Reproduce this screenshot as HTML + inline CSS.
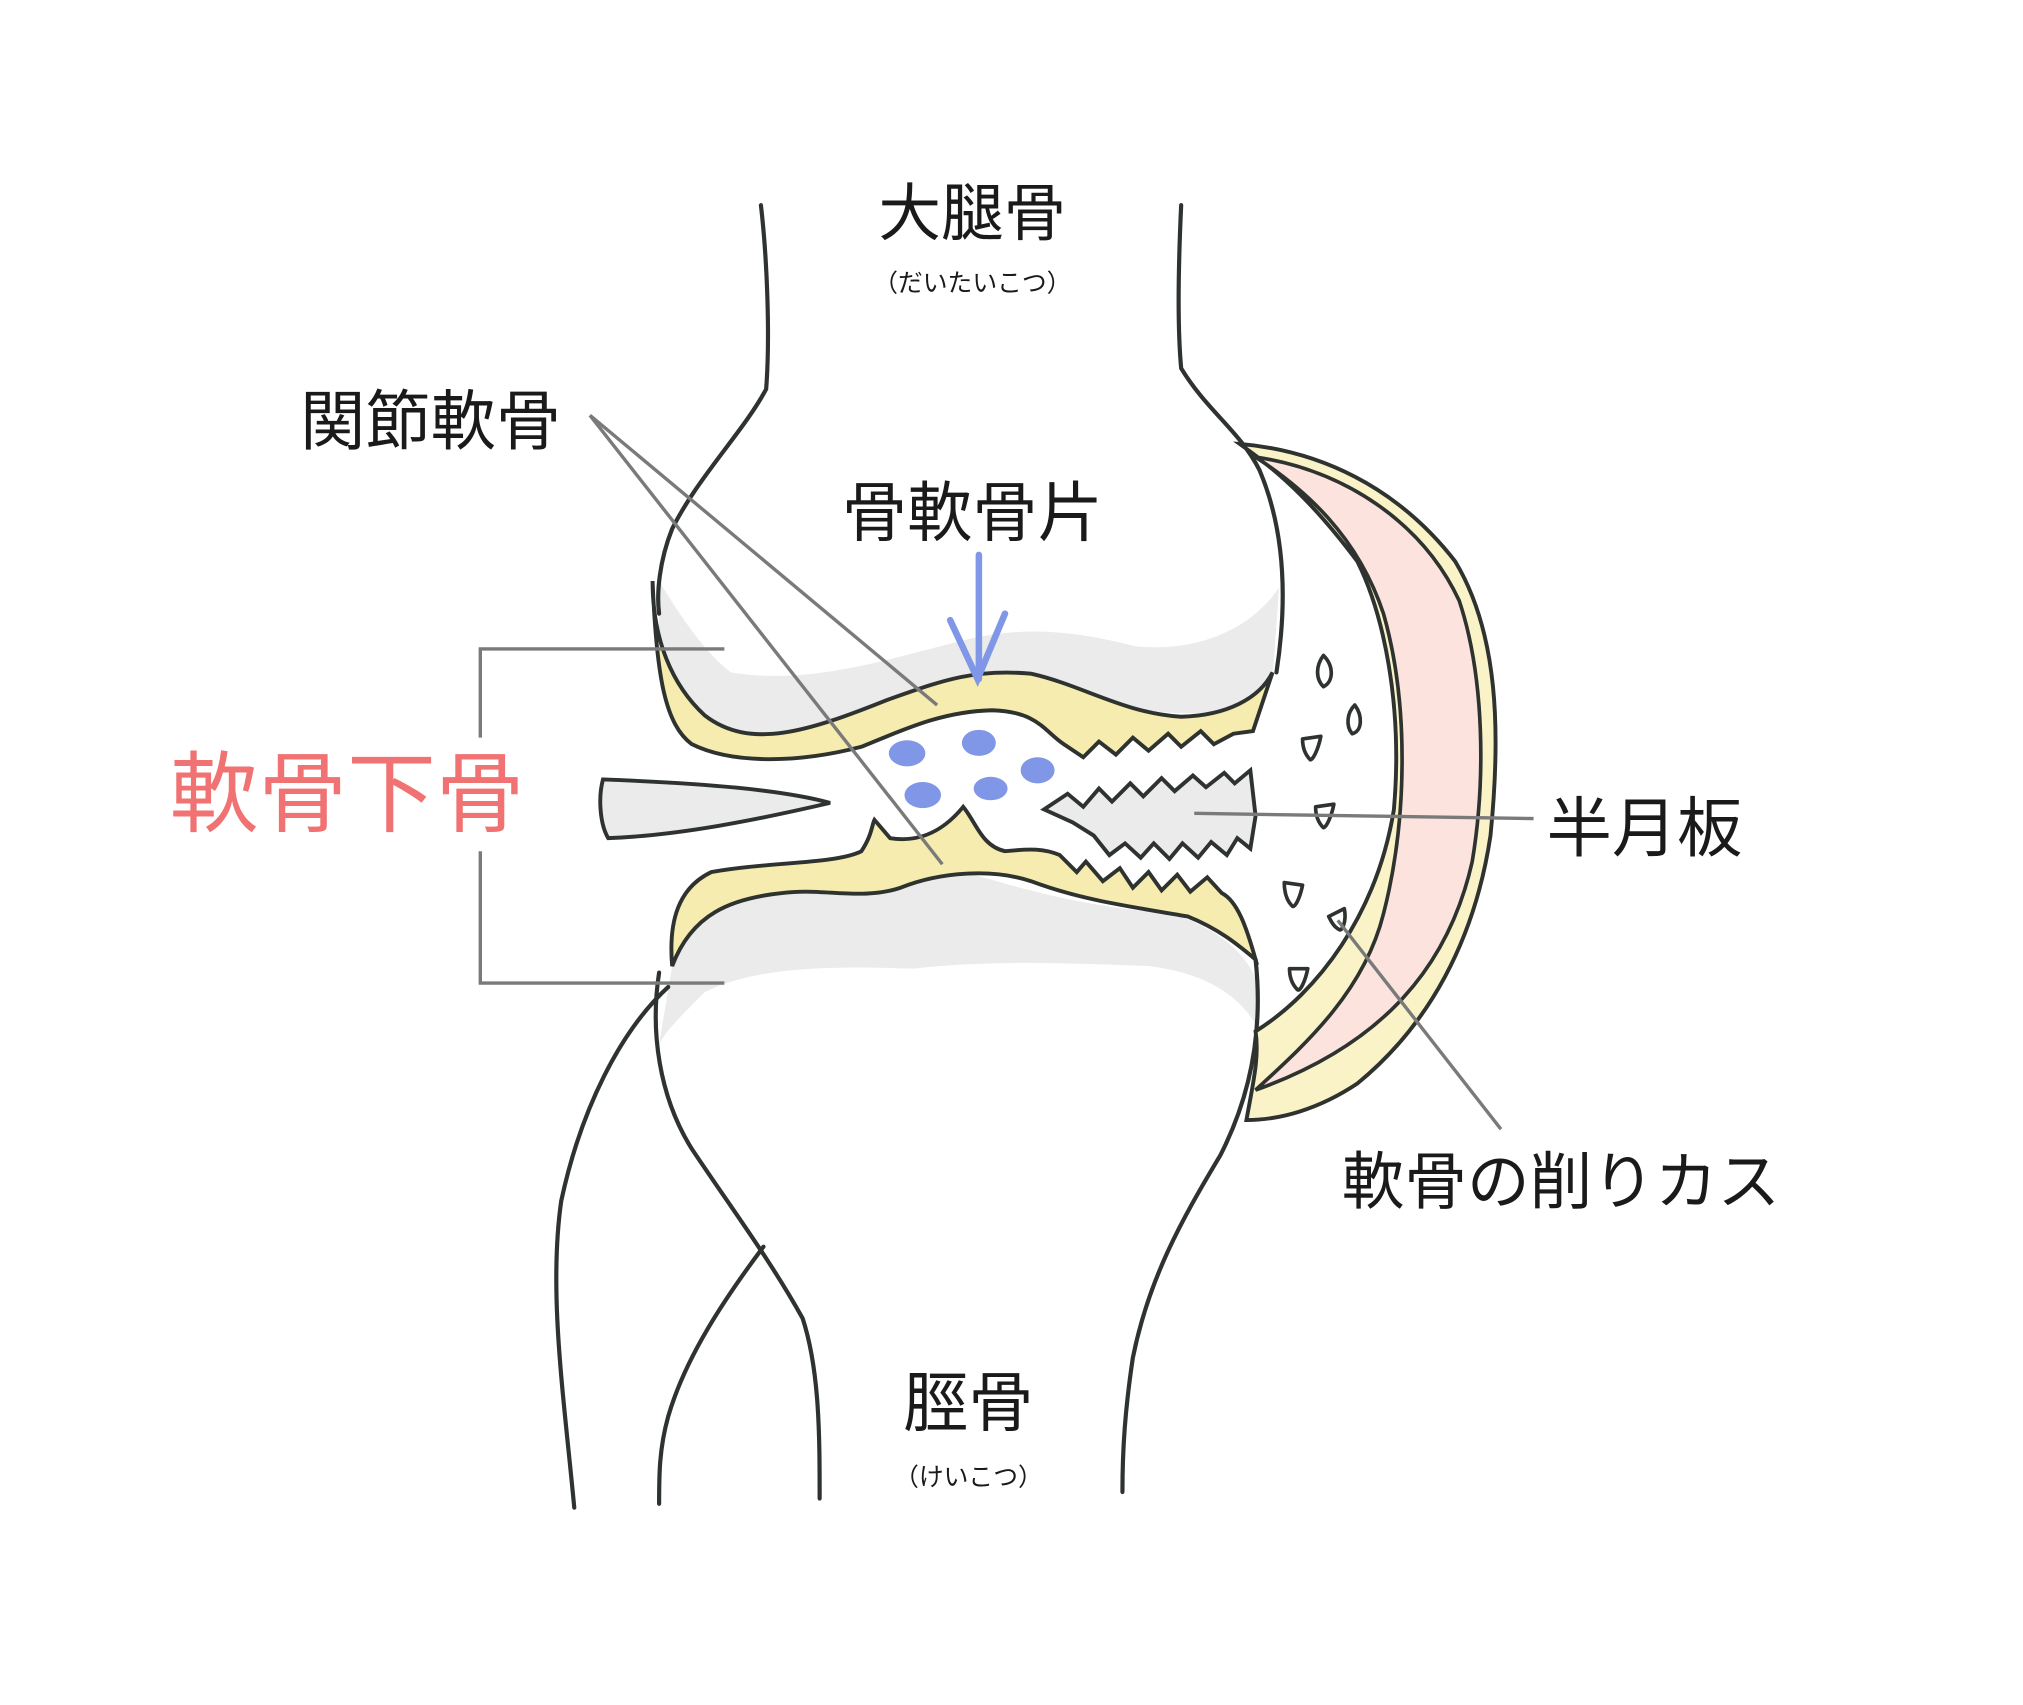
<!DOCTYPE html>
<html><head><meta charset="utf-8"><style>html,body{margin:0;padding:0;background:#fff}svg{display:block}</style></head>
<body>
<svg width="2023" height="1705" viewBox="0 0 1550 1306" xmlns="http://www.w3.org/2000/svg" font-family="'Liberation Sans','Noto Sans CJK JP',sans-serif">
<rect width="1550" height="1306" fill="#fff"/>
<path d="M505,445 C520,470 540,500 560,515 C620,525 680,505 740,490 C790,478 830,485 870,495 C920,500 960,480 980,450 L975,520 L960,540 C920,550 880,548 840,535 C800,518 760,512 720,528 C660,552 600,572 560,570 C530,560 510,540 505,500 Z" fill="#ebebeb"/>
<path d="M515,740 C520,700 560,690 620,682 C660,688 700,672 740,668 C780,680 830,695 900,700 C940,715 960,735 965,760 L965,790 C950,760 920,745 880,740 C820,738 760,735 700,742 C640,740 580,740 540,760 C520,780 510,790 505,800 Z" fill="#ebebeb"/>
<g fill="none" stroke="#2f3330" stroke-width="3.2" stroke-linecap="round">
<path d="M583,157 C588,200 590,260 587,298 C570,330 535,365 515,405 C505,430 503,455 505,470"/>
<path d="M905,157 C903,200 902,250 905,282 C925,315 950,330 965,360 C982,400 988,450 978,515"/>
</g>
<path d="M500,445 C500,490 515,525 540,548 C575,575 620,560 680,536 C720,522 745,512 790,516 C830,525 860,546 905,549 C940,548 965,535 975,515 L960,560 L945,562 L930,570 L920,560 L905,572 L895,562 L880,575 L868,565 L855,578 L842,568 L830,580 L815,570 C800,560 795,545 760,544 C720,545 690,560 660,572 C610,585 560,585 530,570 C510,555 503,520 500,445 Z" fill="#f6ecb0" stroke="#2f3330" stroke-width="3"/>
<path d="M462,597 C458,612 460,632 466,642 C520,640 580,628 636,615 C600,605 540,600 462,597 Z" fill="#ebebeb" stroke="#2f3330" stroke-width="3"/>
<path d="M800,620 L818,608 L830,618 L842,604 L852,614 L866,600 L876,610 L890,596 L900,606 L914,594 L924,603 L938,592 L946,600 L958,590 L962,625 L958,650 L948,642 L940,655 L928,645 L918,657 L906,646 L896,658 L884,646 L874,657 L862,646 L850,655 L838,640 L822,630 Z" fill="#ebebeb" stroke="#2f3330" stroke-width="3"/>
<path d="M515,740 C512,705 520,680 545,668 C590,660 640,662 660,652 C668,640 668,632 670,628 L682,642 C700,645 720,640 738,618 C748,630 752,648 770,652 C790,650 800,650 812,655 L825,668 L832,660 L845,675 L858,665 L868,680 L880,668 L890,682 L902,670 L912,683 L925,672 L936,684 C948,690 955,710 962,735 C950,725 935,712 910,702 C870,695 830,690 790,675 C760,665 720,668 690,680 C660,690 630,680 600,684 C560,688 530,700 515,740 Z" fill="#f6ecb0" stroke="#2f3330" stroke-width="3"/>
<g fill="none" stroke="#2f3330" stroke-width="3.2" stroke-linecap="round">
<path d="M505,745 C498,790 505,840 530,880 C560,925 590,965 615,1010 C628,1050 628,1100 628,1148"/>
<path d="M962,735 C968,790 958,840 935,885 C905,935 880,980 868,1040 C862,1080 860,1110 860,1143"/>
<path d="M512,756 C475,790 445,850 430,920 C420,990 432,1070 440,1155"/>
<path d="M585,955 C555,995 525,1040 512,1085 C505,1110 505,1130 505,1152"/>
</g>
<path d="M950,340 C1010,345 1070,372 1115,430 C1148,485 1150,560 1142,640 C1130,720 1095,785 1040,830 C1010,850 980,858 955,858 C960,830 965,810 962,790 C1010,760 1055,700 1068,620 C1075,540 1060,470 1040,430 C1010,390 985,365 950,340 Z" fill="#fbf3c8" stroke="#2f3330" stroke-width="3"/>
<path d="M962,350 C1030,360 1090,400 1118,460 C1138,520 1138,600 1128,660 C1110,740 1060,800 962,835 C1000,800 1045,760 1060,700 C1078,630 1080,540 1060,470 C1040,410 1000,375 962,350 Z" fill="#fce3dd" stroke="#2f3330" stroke-width="2.8"/>
<g fill="#fff" stroke="#2f3330" stroke-width="2.8" stroke-linejoin="round">
<path d="M1014,502 C1022,510 1022,522 1014,526 C1008,520 1008,510 1014,502 Z"/>
<path d="M1038,540 C1044,548 1044,560 1036,562 C1031,556 1032,546 1038,540 Z"/>
<path d="M998,566 L1012,564 C1010,574 1006,582 1004,582 C1000,578 998,572 998,566 Z"/>
<path d="M1008,618 L1022,616 C1020,626 1016,634 1014,634 C1010,630 1008,624 1008,618 Z"/>
<path d="M984,676 L998,678 C996,688 992,696 990,694 C986,690 984,684 984,676 Z"/>
<path d="M1018,702 L1030,696 C1032,706 1028,714 1026,712 C1022,710 1020,706 1018,702 Z"/>
<path d="M988,742 L1002,742 C1000,752 996,760 994,758 C990,754 988,748 988,742 Z"/>
</g>
<g fill="#8096e6">
<ellipse cx="695" cy="577" rx="14" ry="10"/>
<ellipse cx="750" cy="569" rx="13" ry="10"/>
<ellipse cx="795" cy="590" rx="13" ry="10"/>
<ellipse cx="707" cy="609" rx="14" ry="10"/>
<ellipse cx="759" cy="604" rx="13" ry="9"/>
</g>
<g stroke="#8096e6" stroke-width="5" stroke-linecap="round" fill="none">
<path d="M750,425 L750,520"/>
<path d="M728,475 L749,520 L770,470"/>
</g>
<g stroke="#7a7a7a" stroke-width="2.6" fill="none">
<path d="M452,318 L718,540"/>
<path d="M452,318 L722,662"/>
<path d="M555,497 L368,497 L368,565"/>
<path d="M368,652 L368,753 L555,753"/>
<path d="M915,623 L1175,627"/>
<path d="M1025,705 L1150,865"/>
</g>
<g fill="#1a1a1a">
<text x="745" y="180" font-size="48" text-anchor="middle">大腿骨</text>
<text x="745" y="223" font-size="19" text-anchor="middle">（だいたいこつ）</text>
<text x="230" y="340" font-size="50">関節軟骨</text>
<text x="645" y="410" font-size="50">骨軟骨片</text>
<text x="1185" y="652" font-size="50">半月板</text>
<text x="1028" y="922" font-size="48">軟骨の削りカス</text>
<text x="742" y="1092" font-size="50" text-anchor="middle">脛骨</text>
<text x="742" y="1138" font-size="19" text-anchor="middle">（けいこつ）</text>
</g>
<text x="130" y="632" font-size="68" fill="#f07272">軟骨下骨</text>
</svg>
</body></html>
